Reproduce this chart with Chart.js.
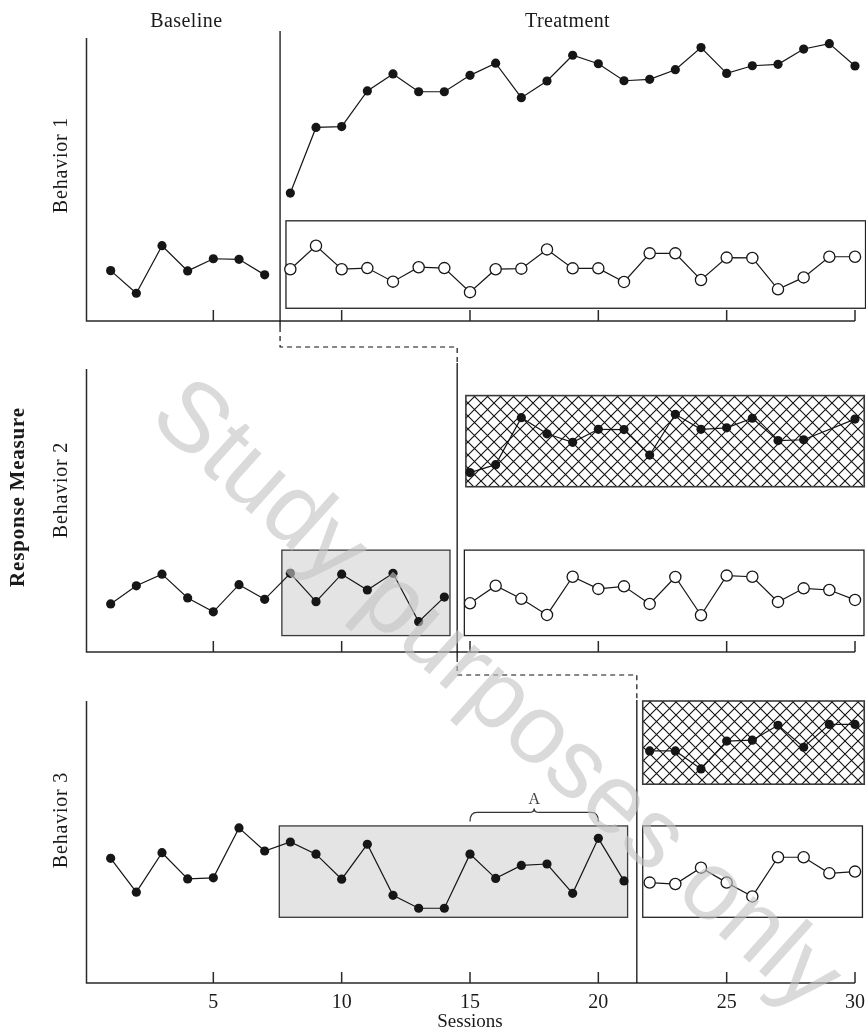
<!DOCTYPE html>
<html>
<head>
<meta charset="utf-8">
<script src="https://cdn.jsdelivr.net/npm/chart.js@4.4.0/dist/chart.umd.min.js"></script>
<style>
  html, body { margin: 0; padding: 0; background: #fff; }
  #wrap { position: relative; width: 866px; height: 1033px; }
</style>
</head>
<body>
<div id="wrap"><canvas id="chart" width="866" height="1033"></canvas></div>
<script>
// sessions 1..30
const sessions = [1,2,3,4,5,6,7,8,9,10,11,12,13,14,15,16,17,18,19,20,21,22,23,24,25,26,27,28,29,30];
const xTicks = [5, 10, 15, 20, 25, 30];
const phaseLabels = ['Baseline', 'Treatment'];
const behaviorLabels = ['Behavior 1', 'Behavior 2', 'Behavior 3'];
// session where treatment starts (phase change line) for each behavior
const phaseChange = [7.6, 14.5, 21.5];

// Behavior 1 (response measure, 0-100 of panel height)
const b1Baseline = [17.8, 9.8, 26.6, 17.7, 22.0, 21.8, 16.3];                 // sessions 1-7
const b1Treatment = [45.2, 68.4, 68.7, 81.3, 87.3, 81.0, 81.0, 86.8, 91.1, 78.9, 84.8, 93.9,
                     90.9, 84.9, 85.4, 88.8, 96.6, 87.5, 90.2, 90.7, 96.1, 98.0, 90.1];   // 8-30
const b1Other = [18.3, 26.6, 18.3, 18.7, 13.9, 19.0, 18.7, 10.2, 18.3, 18.5, 25.3, 18.6,
                 18.6, 13.8, 23.9, 23.9, 14.5, 22.4, 22.3, 11.2, 15.4, 22.7, 22.7];       // 8-30 (open)

// Behavior 2
const b2Baseline = [17.0, 23.4, 27.5, 19.1, 14.2, 23.8, 18.6, 27.8, 17.8, 27.5, 21.9, 27.8, 10.7, 19.4]; // 1-14
const b2Treatment = [63.4, 66.2, 82.8, 77.1, 74.1, 78.7, 78.6, 69.6, 84.0, 78.7, 79.2, 82.6,
                     74.7, 75.0, null, 82.3];                                              // 15-30
const b2Other = [17.2, 23.4, 18.8, 13.1, 26.6, 22.3, 23.2, 17.0, 26.5, 13.0, 27.0, 26.6,
                 17.7, 22.5, 21.9, 18.4];                                                  // 15-30 (open)

// Behavior 3
const b3Baseline = [44.2, 32.2, 46.2, 36.9, 37.3, 55.0, 46.8, 50.0, 45.7, 36.8, 49.2, 31.1,
                    26.5, 26.5, 45.7, 37.1, 41.7, 42.2, 31.8, 51.3, 36.2];                 // 1-21
const b3Treatment = [82.3, 82.3, 75.9, 85.8, 86.1, 91.4, 83.6, 91.7, 91.7];                 // 22-30
const b3Other = [35.6, 35.1, 40.9, 35.6, 30.7, 44.6, 44.6, 38.9, 39.5];                     // 22-30 (open)

// shaded / framed regions: session range and value range in panel units
const boxes = [
  { panel: 0, x0: 7.83, x1: 30.41, y0: 4.5, y1: 35.4, kind: 'open' },
  { panel: 1, x0: 7.67, x1: 14.22, y0: 5.8, y1: 36.0, kind: 'grey' },
  { panel: 1, x0: 14.84, x1: 30.36, y0: 58.4, y1: 90.6, kind: 'hatch' },
  { panel: 1, x0: 14.78, x1: 30.35, y0: 5.8, y1: 36.0, kind: 'open' },
  { panel: 2, x0: 7.57, x1: 21.14, y0: 23.3, y1: 55.7, kind: 'grey' },
  { panel: 2, x0: 21.73, x1: 30.36, y0: 70.5, y1: 100, kind: 'hatch' },
  { panel: 2, x0: 21.73, x1: 30.29, y0: 23.3, y1: 55.7, kind: 'open' }
];

// panel geometry in canvas pixels (top of y axis, x-axis line)
const AREA_TOP = 38, AREA_BOTTOM = 983;
const panels = [{ top: 38, base: 321 }, { top: 369, base: 652 }, { top: 701, base: 983 }];

function pts(start, vals) {
  return vals.map((v, i) => ({ x: sessions[start - 1 + i], y: v }));
}

function yScaleFor(p) {
  const h = p.base - p.top;
  const range = (AREA_BOTTOM - AREA_TOP) * 100 / h;
  const min = -(AREA_BOTTOM - p.base) * 100 / h;
  return { type: 'linear', display: false, min: min, max: min + range };
}

const INK = '#161616';
function closed(data, axis) {
  return { data, yAxisID: axis, borderColor: INK, borderWidth: 1.2, pointRadius: 4.6,
           pointBackgroundColor: INK, pointBorderWidth: 0, spanGaps: true, clip: false };
}
function open(data, axis) {
  return { data, yAxisID: axis, borderColor: INK, borderWidth: 1.2, pointRadius: 5.6,
           pointBackgroundColor: '#fff', pointBorderColor: INK, pointBorderWidth: 1.3, clip: false };
}

function hatchPattern(ctx) {
  const t = document.createElement('canvas');
  t.width = 13; t.height = 13;
  const c = t.getContext('2d');
  c.fillStyle = '#fff';
  c.fillRect(0, 0, 13, 13);
  c.strokeStyle = '#111';
  c.lineWidth = 1.1;
  c.beginPath();
  c.moveTo(-1, -1); c.lineTo(14, 14);
  c.moveTo(14, -1); c.lineTo(-1, 14);
  c.stroke();
  return ctx.createPattern(t, 'repeat');
}

const panelDecor = {
  id: 'panelDecor',
  beforeDatasetsDraw(chart) {
    const ctx = chart.ctx;
    const x = chart.scales.x;
    const ys = [chart.scales.y1, chart.scales.y2, chart.scales.y3];
    const pattern = hatchPattern(ctx);
    ctx.save();
    // boxes
    boxes.forEach(b => {
      const y = ys[b.panel];
      const L = x.getPixelForValue(b.x0), R = x.getPixelForValue(b.x1);
      const T = y.getPixelForValue(b.y1), B = y.getPixelForValue(b.y0);
      ctx.fillStyle = b.kind === 'grey' ? '#e4e4e4' : (b.kind === 'hatch' ? pattern : '#fff');
      ctx.fillRect(L, T, R - L, B - T);
      ctx.strokeStyle = b.kind === 'open' ? '#222' : '#3a3a3a';
      ctx.lineWidth = b.kind === 'hatch' ? 1.6 : 1.3;
      ctx.strokeRect(L, T, R - L, B - T);
    });

    // axes with inward tick marks
    ctx.strokeStyle = '#2a2a2a';
    ctx.lineWidth = 1.5;
    const left = chart.chartArea.left + 1.5;
    const right = x.getPixelForValue(30);
    panels.forEach(p => {
      ctx.beginPath();
      ctx.moveTo(left, p.top);
      ctx.lineTo(left, p.base);
      ctx.lineTo(right, p.base);
      xTicks.forEach(t => {
        const px = x.getPixelForValue(t);
        ctx.moveTo(px, p.base);
        ctx.lineTo(px, p.base - 11);
      });
      ctx.stroke();
    });

    // phase change lines
    ctx.strokeStyle = '#111';
    ctx.lineWidth = 1.3;
    const pc = phaseChange.map(v => x.getPixelForValue(v));
    const solid = [[31, 327], [363, 657], [700, 983]];
    pc.forEach((px, i) => {
      ctx.beginPath();
      ctx.moveTo(px, solid[i][0]);
      ctx.lineTo(px, solid[i][1]);
      ctx.stroke();
    });
    ctx.setLineDash([5, 4]);
    ctx.lineWidth = 1.2;
    const steps = [[327, 347, 363], [657, 675, 700]];
    steps.forEach((s, i) => {
      ctx.beginPath();
      ctx.moveTo(pc[i], s[0]);
      ctx.lineTo(pc[i], s[1]);
      ctx.lineTo(pc[i + 1], s[1]);
      ctx.lineTo(pc[i + 1], s[2]);
      ctx.stroke();
    });
    ctx.setLineDash([]);

    // brace "A" over sessions 15-20 in behavior 3
    const y3 = ys[2];
    const bl = x.getPixelForValue(15), br = x.getPixelForValue(20), bm = x.getPixelForValue(17.5);
    const by = y3.getPixelForValue(60.5);
    ctx.strokeStyle = '#333';
    ctx.lineWidth = 1.3;
    ctx.beginPath();
    ctx.moveTo(bl, by + 9);
    ctx.quadraticCurveTo(bl, by, bl + 7, by);
    ctx.lineTo(bm - 5, by);
    ctx.quadraticCurveTo(bm, by, bm, by - 4);
    ctx.quadraticCurveTo(bm, by, bm + 5, by);
    ctx.lineTo(br - 7, by);
    ctx.quadraticCurveTo(br, by, br, by + 9);
    ctx.stroke();
    ctx.fillStyle = '#444';
    ctx.font = '16px "Liberation Serif", serif';
    ctx.textAlign = 'center';
    ctx.textBaseline = 'alphabetic';
    ctx.fillText('A', bm, by - 8);

    // phase titles
    ctx.fillStyle = '#1a1a1a';
    ctx.font = '20px "Liberation Serif", serif';
    ctx.letterSpacing = '0.4px';
    ctx.fillText(phaseLabels[0], x.getPixelForValue(3.95), 27);
    ctx.fillText(phaseLabels[1], x.getPixelForValue(18.8), 27);

    // rotated behavior labels
    ctx.letterSpacing = '0.8px';
    const labelY = [165, 490, 820];
    behaviorLabels.forEach((t, i) => {
      ctx.save();
      ctx.translate(62, labelY[i]);
      ctx.rotate(-Math.PI / 2);
      ctx.textBaseline = 'middle';
      ctx.font = '20px "Liberation Serif", serif';
      ctx.fillText(t, 0, 0);
      ctx.restore();
    });
    ctx.save();
    ctx.translate(19, 497);
    ctx.rotate(-Math.PI / 2);
    ctx.textBaseline = 'middle';
    ctx.font = 'bold 21px "Liberation Serif", serif';
    ctx.letterSpacing = '0.8px';
    ctx.fillText('Response Measure', 0, 0);
    ctx.restore();
    ctx.letterSpacing = '0px';
    ctx.restore();
  },
  afterDraw(chart) {
    // watermark
    const ctx = chart.ctx;
    ctx.save();
    ctx.translate(495, 697);
    ctx.rotate(42 * Math.PI / 180);
    ctx.fillStyle = 'rgba(195,195,195,0.62)';
    ctx.font = '98px "Liberation Sans", Arial, sans-serif';
    ctx.textAlign = 'center';
    ctx.textBaseline = 'middle';
    ctx.fillText('Study purposes only', 0, 0);
    ctx.restore();
  }
};

new Chart(document.getElementById('chart'), {
  type: 'line',
  data: {
    datasets: [
      closed(pts(1, b1Baseline), 'y1'),
      closed(pts(8, b1Treatment), 'y1'),
      open(pts(8, b1Other), 'y1'),
      closed(pts(1, b2Baseline), 'y2'),
      closed(pts(15, b2Treatment), 'y2'),
      open(pts(15, b2Other), 'y2'),
      closed(pts(1, b3Baseline), 'y3'),
      closed(pts(22, b3Treatment), 'y3'),
      open(pts(22, b3Other), 'y3')
    ]
  },
  options: {
    responsive: false,
    animation: false,
    devicePixelRatio: 1,
    layout: { padding: { left: 85, right: 11, top: AREA_TOP, bottom: 0 } },
    plugins: { legend: { display: false }, tooltip: { enabled: false } },
    elements: { line: { tension: 0 } },
    scales: {
      x: {
        type: 'linear', min: 0, max: 30,
        afterBuildTicks: s => { s.ticks = xTicks.map(v => ({ value: v })); },
        afterFit: s => { s.height = 50; s.paddingLeft = 0; s.paddingRight = 0; },
        grid: { display: false, drawTicks: false },
        border: { display: false },
        ticks: { color: '#1a1a1a', padding: 8, font: { family: '"Liberation Serif", serif', size: 20 } },
        title: { display: true, text: 'Sessions', color: '#1a1a1a', padding: { top: 0, bottom: 0 },
                 font: { family: '"Liberation Serif", serif', size: 19 } }
      },
      y1: yScaleFor(panels[0]),
      y2: yScaleFor(panels[1]),
      y3: yScaleFor(panels[2])
    }
  },
  plugins: [panelDecor]
});
</script>
</body>
</html>
